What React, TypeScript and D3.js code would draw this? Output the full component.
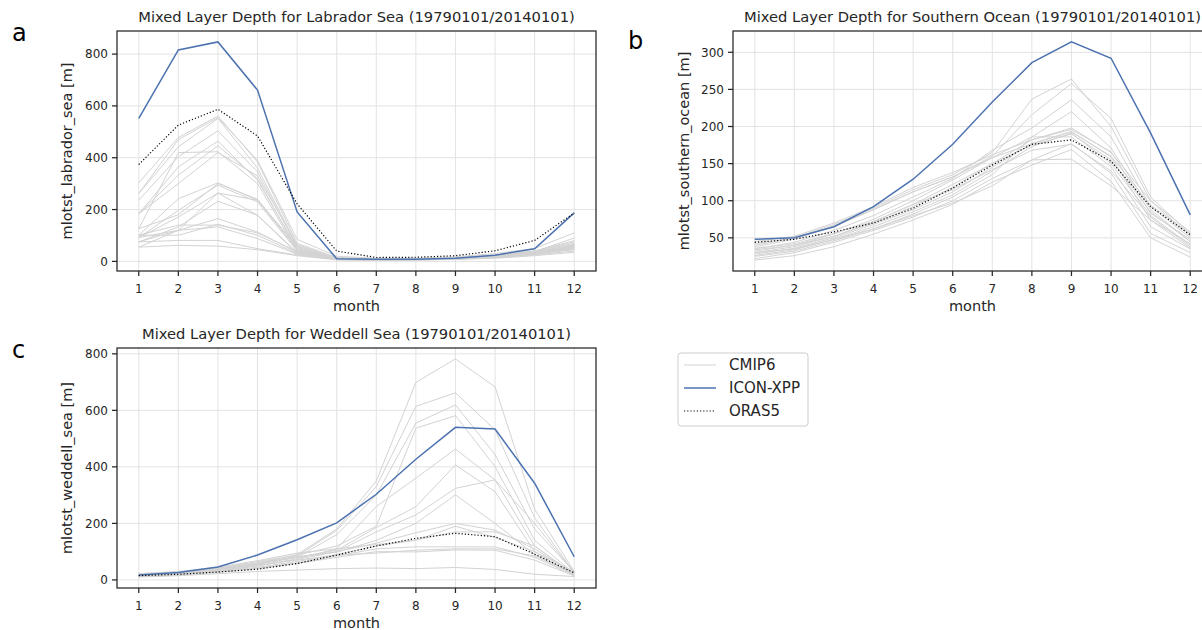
import React, { useEffect, useRef } from "react";
import * as d3 from "d3";

const months = [1, 2, 3, 4, 5, 6, 7, 8, 9, 10, 11, 12];

// Labrador Sea
const labIcon = [552, 816, 847, 661, 191, 10, 8, 8, 12, 24, 49, 187];
const labOras = [374, 526, 587, 484, 222, 40, 15, 16, 22, 41, 81, 187];
const labCmip = [
  [303, 478, 561, 384, 70, 15, 10, 10, 15, 25, 40, 80],
  [262, 442, 552, 360, 60, 12, 8, 8, 12, 22, 38, 70],
  [236, 404, 504, 345, 55, 10, 8, 8, 12, 20, 35, 65],
  [184, 365, 464, 313, 50, 12, 9, 9, 14, 22, 40, 75],
  [184, 333, 446, 320, 45, 10, 7, 8, 12, 20, 36, 60],
  [126, 420, 423, 300, 40, 10, 6, 7, 10, 18, 34, 55],
  [101, 242, 303, 236, 45, 12, 8, 9, 12, 20, 35, 60],
  [92, 197, 294, 229, 40, 10, 7, 8, 12, 20, 34, 58],
  [92, 171, 264, 178, 35, 8, 6, 7, 10, 18, 30, 50],
  [75, 133, 232, 178, 30, 8, 6, 7, 10, 18, 30, 52],
  [55, 120, 264, 236, 60, 10, 7, 8, 12, 20, 35, 65],
  [92, 120, 165, 113, 35, 8, 6, 7, 10, 16, 30, 50],
  [101, 101, 143, 101, 30, 8, 6, 7, 10, 16, 28, 45],
  [75, 120, 133, 88, 28, 7, 5, 6, 9, 15, 28, 48],
  [75, 81, 81, 49, 25, 7, 5, 6, 8, 14, 25, 40],
  [55, 62, 59, 45, 22, 6, 5, 5, 8, 12, 22, 35],
  [101, 140, 140, 110, 38, 9, 6, 7, 10, 17, 32, 55],
  [262, 470, 555, 390, 85, 20, 12, 12, 18, 30, 50, 110],
  [126, 180, 300, 240, 50, 11, 7, 8, 11, 20, 32, 62],
  [184, 300, 420, 330, 65, 14, 9, 9, 13, 22, 38, 90],
];

// Southern Ocean
const soIcon = [48, 50, 65, 92, 129, 176, 233, 286, 314, 292, 191, 81];
const soOras = [44, 48, 58, 70, 90, 117, 148, 176, 182, 153, 92, 54];
const soCmip = [
  [40, 50, 68, 90, 115, 135, 165, 237, 264, 200, 100, 52],
  [38, 48, 66, 88, 112, 132, 160, 216, 258, 211, 105, 55],
  [35, 44, 60, 80, 105, 130, 168, 198, 236, 186, 92, 50],
  [32, 40, 55, 75, 100, 128, 158, 186, 220, 171, 88, 45],
  [30, 38, 52, 72, 95, 122, 150, 182, 196, 166, 83, 48],
  [28, 36, 50, 68, 88, 112, 145, 177, 193, 159, 74, 42],
  [26, 34, 48, 65, 85, 108, 140, 173, 191, 150, 80, 40],
  [25, 32, 46, 62, 82, 105, 135, 186, 186, 146, 65, 35],
  [22, 30, 44, 60, 78, 100, 130, 155, 177, 137, 56, 30],
  [20, 26, 38, 55, 74, 95, 125, 148, 169, 126, 50, 24],
  [30, 35, 48, 62, 80, 97, 120, 155, 156, 120, 74, 36],
  [45, 52, 70, 92, 118, 138, 162, 182, 198, 165, 100, 58],
  [42, 50, 65, 88, 112, 132, 158, 177, 193, 160, 94, 56],
  [34, 40, 52, 70, 92, 118, 150, 175, 190, 155, 85, 45],
  [36, 42, 56, 72, 95, 115, 142, 168, 176, 140, 78, 38],
];

// Weddell Sea
const wedIcon = [17, 26, 46, 88, 142, 202, 303, 427, 540, 534, 342, 82];
const wedOras = [15, 20, 28, 38, 58, 88, 120, 147, 165, 153, 91, 25];
const wedCmip = [
  [20, 25, 40, 60, 90, 180, 350, 699, 782, 683, 250, 30],
  [15, 22, 35, 55, 85, 175, 330, 614, 662, 531, 220, 25],
  [18, 24, 38, 58, 80, 160, 300, 555, 619, 443, 180, 28],
  [22, 28, 42, 65, 88, 120, 190, 537, 581, 401, 140, 22],
  [12, 18, 30, 50, 75, 110, 260, 360, 463, 354, 120, 20],
  [16, 22, 36, 55, 80, 105, 185, 259, 407, 312, 100, 18],
  [14, 20, 32, 50, 72, 100, 170, 230, 324, 354, 200, 25],
  [20, 26, 40, 60, 82, 98, 140, 200, 301, 200, 90, 20],
  [18, 24, 38, 58, 80, 100, 130, 167, 200, 176, 110, 22],
  [15, 20, 30, 45, 65, 90, 120, 141, 170, 170, 120, 18],
  [14, 20, 28, 42, 60, 85, 110, 117, 117, 117, 80, 16],
  [12, 18, 26, 40, 58, 80, 100, 99, 106, 105, 70, 14],
  [10, 15, 22, 30, 35, 40, 42, 40, 44, 37, 20, 12],
  [22, 30, 45, 68, 95, 110, 125, 140, 190, 150, 100, 30],
  [16, 22, 34, 52, 70, 88, 95, 105, 110, 110, 85, 20],
];

const labTicks = [0, 200, 400, 600, 800];
const soTicks = [50, 100, 150, 200, 250, 300];
const wedTicks = [0, 200, 400, 600, 800];

const legendNames = ["CMIP6", "ICON-XPP", "ORAS5"];

const TEXT = "#262626";
const GRAY = "#d3d3d3";
const BLUE = "#4c72b0";
const FONT = "DejaVu Sans, sans-serif";

const App = () => {
  const ref = useRef(null);

  useEffect(() => {
    const svg = d3.select(ref.current);
    svg.selectAll("*").remove();

    const panels = [
      { letter: "a", lx: 12, ly: 41, left: 117, top: 31, title: "Mixed Layer Depth for Labrador Sea (19790101/20140101)", ylabel: "mlotst_labrador_sea [m]", icon: labIcon, oras: labOras, cmip: labCmip, ticks: labTicks },
      { letter: "b", lx: 628, ly: 49, left: 733, top: 31, title: "Mixed Layer Depth for Southern Ocean (19790101/20140101)", ylabel: "mlotst_southern_ocean [m]", icon: soIcon, oras: soOras, cmip: soCmip, ticks: soTicks },
      { letter: "c", lx: 12, ly: 358, left: 117, top: 348, title: "Mixed Layer Depth for Weddell Sea (19790101/20140101)", ylabel: "mlotst_weddell_sea [m]", icon: wedIcon, oras: wedOras, cmip: wedCmip, ticks: wedTicks },
    ];
    const w = 479; // axes width
    const h = 240; // axes height

    panels.forEach((p) => {
      const g = svg.append("g").attr("transform", `translate(${p.left},${p.top})`);
      const all = [...p.icon, ...p.oras, ...p.cmip.flat()];
      const lo = d3.min(all), hi = d3.max(all);
      const pad = (hi - lo) * 0.05;
      const x = d3.scaleLinear().domain([1 - 0.55, 12 + 0.55]).range([0, w]);
      const y = d3.scaleLinear().domain([lo - pad, hi + pad]).range([h, 0]);

      // grid
      g.selectAll(".gx").data(months).enter().append("line")
        .attr("x1", (d) => x(d)).attr("x2", (d) => x(d)).attr("y1", 0).attr("y2", h)
        .attr("stroke", "#e3e3e3").attr("stroke-width", 1);
      g.selectAll(".gy").data(p.ticks).enter().append("line")
        .attr("x1", 0).attr("x2", w).attr("y1", (d) => y(d)).attr("y2", (d) => y(d))
        .attr("stroke", "#e3e3e3").attr("stroke-width", 1);

      const line = d3.line().x((d, i) => x(months[i])).y((d) => y(d));
      p.cmip.forEach((s) => {
        g.append("path").attr("d", line(s)).attr("fill", "none")
          .attr("stroke", GRAY).attr("stroke-width", 1);
      });
      g.append("path").attr("d", line(p.icon)).attr("fill", "none")
        .attr("stroke", BLUE).attr("stroke-width", 1.5);
      g.append("path").attr("d", line(p.oras)).attr("fill", "none")
        .attr("stroke", "#000").attr("stroke-width", 1.2).attr("stroke-dasharray", "1.2,2");

      // spines
      g.append("rect").attr("x", 0).attr("y", 0).attr("width", w).attr("height", h)
        .attr("fill", "none").attr("stroke", TEXT).attr("stroke-width", 1.25);

      // x axis ticks
      g.selectAll(".tx").data(months).enter().append("line")
        .attr("x1", (d) => x(d)).attr("x2", (d) => x(d)).attr("y1", h).attr("y2", h + 5)
        .attr("stroke", TEXT).attr("stroke-width", 1.25);
      g.selectAll(".tlx").data(months).enter().append("text")
        .attr("x", (d) => x(d)).attr("y", h + 22).attr("text-anchor", "middle")
        .attr("font-size", 12).attr("fill", TEXT).attr("font-family", FONT).text((d) => d);
      g.selectAll(".ty").data(p.ticks).enter().append("line")
        .attr("x1", -5).attr("x2", 0).attr("y1", (d) => y(d)).attr("y2", (d) => y(d))
        .attr("stroke", TEXT).attr("stroke-width", 1.25);
      g.selectAll(".tly").data(p.ticks).enter().append("text")
        .attr("x", -9).attr("y", (d) => y(d)).attr("dy", "0.36em").attr("text-anchor", "end")
        .attr("font-size", 12).attr("fill", TEXT).attr("font-family", FONT).text((d) => d);

      g.append("text").attr("x", w / 2).attr("y", h + 40).attr("text-anchor", "middle")
        .attr("font-size", 14.5).attr("fill", TEXT).attr("font-family", FONT).text("month");
      g.append("text").attr("transform", `translate(${p.left === 117 ? -45 : -44},${h / 2}) rotate(-90)`)
        .attr("text-anchor", "middle").attr("font-size", 14.5).attr("fill", TEXT)
        .attr("font-family", FONT).text(p.ylabel);
      g.append("text").attr("x", w / 2).attr("y", -9).attr("text-anchor", "middle")
        .attr("font-size", 14.7).attr("fill", TEXT).attr("font-family", FONT).text(p.title);

      svg.append("text").attr("x", p.lx).attr("y", p.ly).attr("font-size", 24)
        .attr("fill", "#000").attr("font-family", FONT).text(p.letter);
    });

    // legend
    const lg = svg.append("g").attr("transform", "translate(678,353)");
    lg.append("rect").attr("width", 130).attr("height", 73).attr("rx", 3)
      .attr("fill", "#fff").attr("stroke", "#cccccc").attr("stroke-width", 1);
    const styles = [
      { c: GRAY, w: 1, dash: null },
      { c: BLUE, w: 1.5, dash: null },
      { c: "#000", w: 1.2, dash: "1.2,2" },
    ];
    legendNames.forEach((name, i) => {
      const yy = 12 + i * 23;
      const ln = lg.append("line").attr("x1", 6).attr("x2", 38).attr("y1", yy).attr("y2", yy)
        .attr("stroke", styles[i].c).attr("stroke-width", styles[i].w);
      if (styles[i].dash) ln.attr("stroke-dasharray", styles[i].dash);
      lg.append("text").attr("x", 51).attr("y", yy).attr("dy", "0.36em")
        .attr("font-size", 15).attr("fill", TEXT).attr("font-family", FONT).text(name);
    });
  }, []);

  return (
    <svg ref={ref} width={1202} height={630}
      style={{ position: "absolute", left: 0, top: 0, background: "#fff" }} />
  );
};

export default App;
